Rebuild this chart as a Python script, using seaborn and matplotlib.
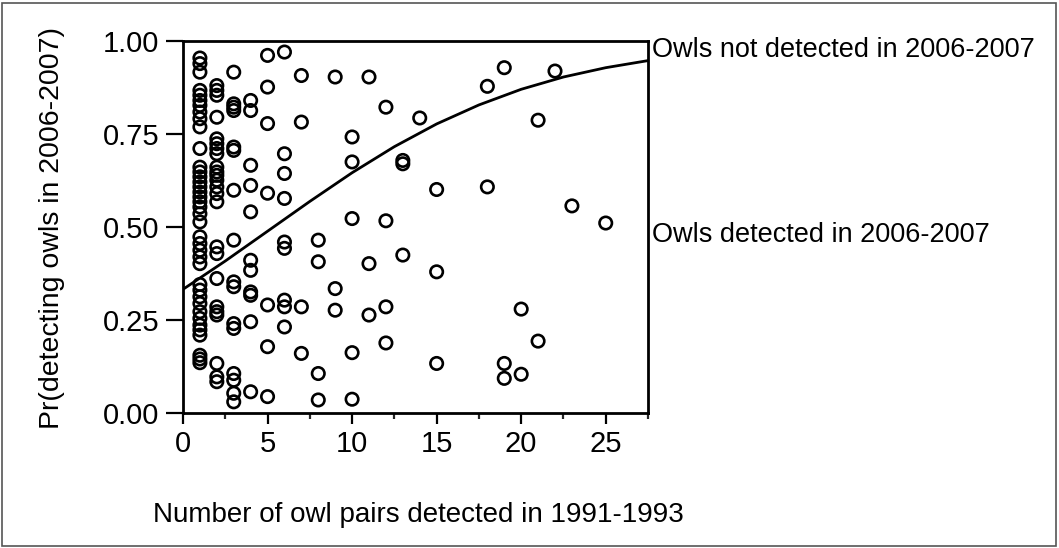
import numpy as np
import pandas as pd
import matplotlib
matplotlib.use("Agg")
import matplotlib.pyplot as plt
import seaborn as sns
from matplotlib.patches import Rectangle
from matplotlib.ticker import MultipleLocator

# ---------------- data ----------------
pairs_x1 = [0.953, 0.938, 0.915, 0.866, 0.853, 0.839, 0.826, 0.808, 0.790, 0.768,
            0.710, 0.660, 0.647, 0.634, 0.620, 0.607, 0.593, 0.580, 0.567, 0.553,
            0.535, 0.513, 0.473, 0.455, 0.437, 0.419, 0.401, 0.345, 0.330, 0.312,
            0.294, 0.272, 0.254, 0.236, 0.223, 0.209, 0.155, 0.145, 0.135]
pairs_x2 = [0.879, 0.866, 0.853, 0.794, 0.736, 0.723, 0.710, 0.696, 0.660, 0.647,
            0.638, 0.625, 0.607, 0.589, 0.567, 0.446, 0.428, 0.361, 0.285, 0.272,
            0.263, 0.133, 0.097, 0.084]
pairs_x3 = [0.915, 0.830, 0.821, 0.812, 0.714, 0.705, 0.598, 0.464, 0.352, 0.339,
            0.240, 0.227, 0.106, 0.088, 0.053, 0.030]
pairs_x4 = [0.839, 0.812, 0.665, 0.611, 0.540, 0.410, 0.383, 0.325, 0.316, 0.245, 0.057]
pairs_x5 = [0.960, 0.875, 0.777, 0.590, 0.290, 0.178, 0.044]
pairs_x6 = [0.969, 0.696, 0.643, 0.576, 0.459, 0.442, 0.303, 0.285, 0.231]
pairs_x7 = [0.906, 0.781, 0.285, 0.160]
pairs_x8 = [0.464, 0.406, 0.106, 0.035]
pairs_x9 = [0.902, 0.334, 0.276]
pairs_x10 = [0.741, 0.674, 0.522, 0.162, 0.037]
pairs_x11 = [0.902, 0.401, 0.263]
pairs_x12 = [0.821, 0.516, 0.285, 0.188]
pairs_x13 = [0.678, 0.669, 0.424]
pairs_x14 = [0.792]
pairs_x15 = [0.600, 0.379, 0.133]
pairs_x18 = [0.877, 0.607]
pairs_x19 = [0.927, 0.133, 0.093]
pairs_x20 = [0.279, 0.104]
pairs_x21 = [0.786, 0.193]
pairs_x22 = [0.918]
pairs_x23 = [0.556]
pairs_x25 = [0.510]

columns = {1: pairs_x1, 2: pairs_x2, 3: pairs_x3, 4: pairs_x4, 5: pairs_x5,
           6: pairs_x6, 7: pairs_x7, 8: pairs_x8, 9: pairs_x9, 10: pairs_x10,
           11: pairs_x11, 12: pairs_x12, 13: pairs_x13, 14: pairs_x14,
           15: pairs_x15, 18: pairs_x18, 19: pairs_x19, 20: pairs_x20,
           21: pairs_x21, 22: pairs_x22, 23: pairs_x23, 25: pairs_x25}

# fitted curve
curve_x = [0, 2.5, 5, 7.5, 10, 12.5, 15, 17.5, 20, 22.5, 25, 27.5]
curve_y = [0.332, 0.408, 0.488, 0.568, 0.645, 0.715, 0.776, 0.827, 0.869, 0.902, 0.927, 0.946]

x_ticks = [0, 5, 10, 15, 20, 25]
y_ticks = [0.0, 0.25, 0.5, 0.75, 1.0]
y_ticklabels = ["0.00", "0.25", "0.50", "0.75", "1.00"]

xlabel = "Number of owl pairs detected in 1991-1993"
ylabel = "Pr(detecting owls in 2006-2007)"
label_top = "Owls not detected in 2006-2007"
label_bottom = "Owls detected in 2006-2007"

rows = [(k, v) for k, vals in columns.items() for v in vals]
df = pd.DataFrame(rows, columns=["pairs", "pr"])

# ---------------- figure ----------------
sns.set_theme(style="white")
plt.rcParams["font.family"] = ["Liberation Sans", "DejaVu Sans"]

W, H = 1059, 548
fig = plt.figure(figsize=(W / 100, H / 100), dpi=100)
fig.patch.set_facecolor("white")

left, right, top, bottom = 183, 648, 40.5, 413
ax = fig.add_axes([left / W, 1 - bottom / H, (right - left) / W, (bottom - top) / H])

sns.scatterplot(data=df, x="pairs", y="pr", ax=ax, marker="o", s=80,
                facecolor="none", edgecolor="black", linewidth=1.9, zorder=3)
sns.lineplot(x=curve_x, y=curve_y, ax=ax, color="black", linewidth=2.0, zorder=2)

ax.set_xlim(0, 27.5)
ax.set_ylim(0, 1.0)
ax.set_xticks(x_ticks)
ax.xaxis.set_minor_locator(MultipleLocator(2.5))
ax.set_yticks(y_ticks)
ax.set_yticklabels(y_ticklabels)
ax.set_xlabel("")
ax.set_ylabel("")

for s in ax.spines.values():
    s.set_visible(True)
    s.set_color("black")
    s.set_linewidth(2.0)

ax.tick_params(axis="x", which="major", direction="out", length=8, width=1.6,
               labelsize=21, pad=4, colors="black", bottom=True)
ax.tick_params(axis="x", which="minor", direction="out", length=4, width=1.6,
               bottom=True)
ax.tick_params(axis="y", which="major", direction="out", length=12, width=1.6,
               labelsize=21, pad=5, colors="black", left=True)

fig.text(153 / W, 1 - 522 / H, xlabel, ha="left", va="baseline", fontsize=20, color="black")
fig.text(52 / W, 1 - 228 / H, ylabel, ha="center", va="center", rotation=90,
         fontsize=20.5, color="black")
fig.text(652 / W, 1 - 50 / H, label_top, ha="left", va="center", fontsize=19.5, color="black")
fig.text(652 / W, 1 - 235 / H, label_bottom, ha="left", va="center", fontsize=19.5, color="black")

fig.add_artist(Rectangle((2 / W, 2 / H), (W - 5) / W, (H - 5) / H, transform=fig.transFigure,
                         fill=False, edgecolor="#555555", linewidth=1.2))

fig.savefig("out.png", dpi=100, facecolor="white")
